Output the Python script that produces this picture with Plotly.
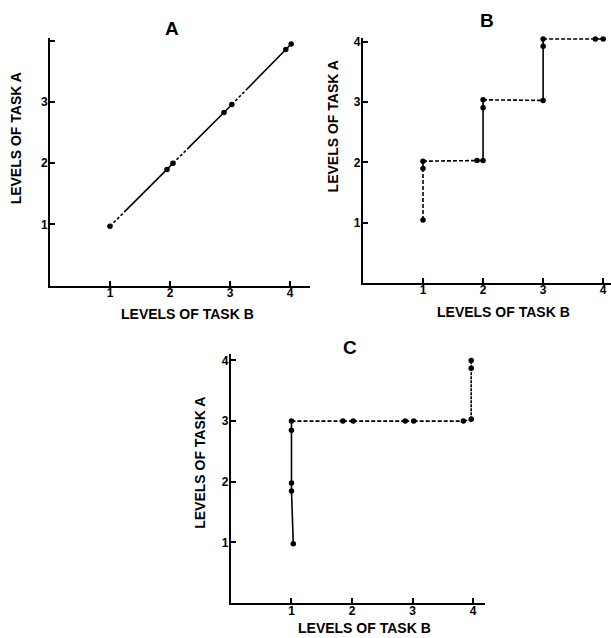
import plotly.graph_objects as go

# ---- data ----
levels = [1, 2, 3, 4]
tick_labels = ["1", "2", "3", "4"]
tick_labels_a_y = ["1", "2", "3", ""]

A_x = [1.0, 1.95, 2.05, 2.9, 3.03, 3.93, 4.02]
A_y = [0.97, 1.9, 2.0, 2.83, 2.96, 3.86, 3.95]

B_x = [1.0, 1.0, 1.0, 1.9, 2.0, 2.0, 2.0, 3.0, 3.0, 3.0, 3.87, 4.0]
B_y = [1.04, 1.9, 2.02, 2.03, 2.03, 2.91, 3.04, 3.03, 3.93, 4.05, 4.05, 4.05]

C_x = [1.03, 1.0, 1.0, 1.0, 1.0, 1.85, 2.02, 2.88, 3.02, 3.84, 3.97, 3.97, 3.97]
C_y = [0.98, 1.85, 1.98, 2.85, 3.0, 3.0, 3.0, 3.0, 3.0, 3.0, 3.03, 3.87, 4.0]

# ---- styles (segment dash patterns) ----
MIX = "3px,2px,3px,2px,3px,2px,3px,2px,300px"
DSH = "4px,2px"
SOL = "solid"
A_seg = [MIX, SOL, MIX, SOL, MIX, SOL]
B_seg = [DSH, SOL, DSH, SOL, SOL, SOL, DSH, SOL, SOL, DSH, SOL]
C_seg = [SOL, SOL, SOL, SOL, DSH, DSH, DSH, DSH, DSH, DSH, "3px,1px", "3px,1px"]

FONT = "Liberation Sans"
fig = go.Figure()

panels = [
    (A_x, A_y, A_seg, "x", "y"),
    (B_x, B_y, B_seg, "x2", "y2"),
    (C_x, C_y, C_seg, "x3", "y3"),
]
for xs, ys, segs, xa, ya in panels:
    for i, st in enumerate(segs):
        fig.add_trace(go.Scatter(
            x=xs[i:i + 2], y=ys[i:i + 2], mode="lines", xaxis=xa, yaxis=ya,
            line=dict(color="black", width=1.6, dash=st), showlegend=False,
            hoverinfo="skip"))
    fig.add_trace(go.Scatter(
        x=xs, y=ys, mode="markers", xaxis=xa, yaxis=ya, cliponaxis=False,
        marker=dict(color="black", size=5.5), showlegend=False))

axis_common = dict(
    showline=True, linecolor="black", linewidth=2, showgrid=False,
    zeroline=False, ticks="inside", ticklen=5, tickwidth=1.5,
    tickcolor="black", tickvals=levels,
    tickfont=dict(family=FONT, size=12, color="black", weight="bold"),
)
xcommon = dict(axis_common, ticklabelstandoff=-5)
ycommon = dict(axis_common, ticklabelstandoff=-2)

fig.update_layout(
    width=611, height=638, margin=dict(l=0, r=0, t=0, b=0),
    paper_bgcolor="white", plot_bgcolor="white",
    xaxis=dict(domain=[0.0818, 0.507], range=[0, 4.33], anchor="y",
               ticktext=tick_labels, **xcommon),
    yaxis=dict(domain=[0.5549, 0.9451], range=[0, 4.05], anchor="x",
               ticktext=tick_labels_a_y, **ycommon),
    xaxis2=dict(domain=[0.594, 1.0], range=[0, 4.13], anchor="y2",
                ticktext=tick_labels, **xcommon),
    yaxis2=dict(domain=[0.5596, 0.9451], range=[0, 4.07], anchor="x2",
                ticktext=tick_labels, **ycommon),
    xaxis3=dict(domain=[0.378, 0.794], range=[0, 4.2], anchor="y3",
                ticktext=tick_labels, **xcommon),
    yaxis3=dict(domain=[0.0549, 0.4467], range=[0, 4.1], anchor="x3",
                ticktext=tick_labels, **ycommon),
)

def ann(text, xp, yp, size, angle=0):
    fig.add_annotation(
        text=text, x=xp / 611, y=1 - yp / 638, xref="paper", yref="paper",
        showarrow=False, textangle=angle, xanchor="center", yanchor="middle",
        font=dict(family=FONT, size=size, color="black", weight="bold"))

# panel titles
ann("A", 172, 26, 19)
ann("B", 487, 18, 19)
ann("C", 350, 346, 19)
# axis titles
ann("LEVELS OF TASK B", 187, 312, 14)
ann("LEVELS OF TASK A", 16, 136, 14, -90)
ann("LEVELS OF TASK B", 503, 310, 14)
ann("LEVELS OF TASK A", 333, 124, 14, -90)
ann("LEVELS OF TASK B", 364, 628, 14)
ann("LEVELS OF TASK A", 200, 462, 14, -90)

fig.write_html(
    "out.html",
    config={"displayModeBar": False},
    post_script="document.body.style.margin='0';document.body.style.overflow='hidden';",
)
